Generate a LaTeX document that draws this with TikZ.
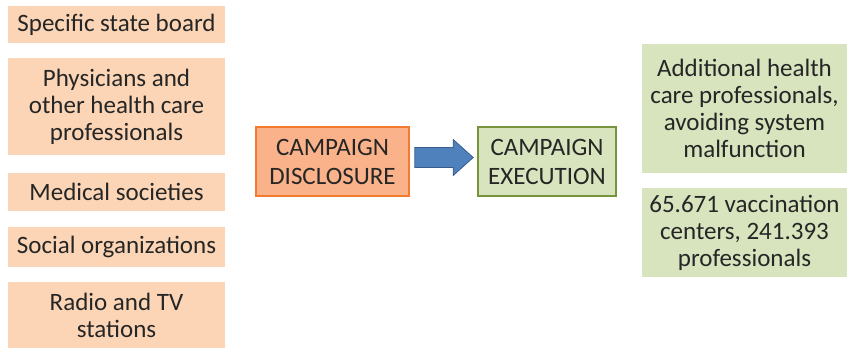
\documentclass[tikz,border=0pt]{standalone}
\usepackage{fontspec}
\setmainfont{Carlito}
\usetikzlibrary{calc}
\definecolor{peach}{HTML}{FBD5B5}
\definecolor{orfill}{HTML}{F9B28A}
\definecolor{orline}{HTML}{F47A30}
\definecolor{grfill}{HTML}{D7E4BD}
\definecolor{grline}{HTML}{77933C}
\definecolor{arfill}{HTML}{4F81BD}
\definecolor{arline}{HTML}{385D8A}
\definecolor{txt}{HTML}{262626}
\tikzset{
  every node/.style={font=\fontsize{25}{27}\selectfont, text=txt, align=center, inner sep=0pt},
  leftbox/.style={fill=peach, minimum width=217pt},
  rightbox/.style={fill=grfill, minimum width=205pt},
  disc/.style={fill=orfill, draw=orline, line width=1.6pt, minimum width=153pt, minimum height=69pt, font=\fontsize{25}{29}\selectfont},
  exec/.style={fill=grfill, draw=grline, line width=1.6pt, minimum width=138pt, minimum height=69pt, font=\fontsize{25}{29}\selectfont},
  blockarrow/.style={fill=arfill, draw=arline, line width=0.8pt, line join=miter}
}
\begin{document}
\begin{tikzpicture}[x=1pt,y=-1pt]
\useasboundingbox (0,0) rectangle (847,350);
\node[leftbox, minimum height=37pt] (l1) at (116.5,24.5) {Specific state board};
\node[leftbox, minimum height=97pt] (l2) at (116.5,106.5) {Physicians and\\other health care\\professionals};
\node[leftbox, minimum height=38pt] (l3) at (116.5,192) {Medical societies};
\node[leftbox, minimum height=40pt] (l4) at (116.5,247) {Social organizations};
\node[leftbox, minimum height=66pt] (l5) at (116.5,315) {Radio and TV\\stations};
\node[disc] (d) at (332.5,161.5) {CAMPAIGN\\DISCLOSURE};
\node[exec] (e) at (547,161.5) {CAMPAIGN\\EXECUTION};
\node[rightbox, minimum height=129pt] (r1) at (744.5,108.5) {Additional health\\care professionals,\\avoiding system\\malfunction};
\node[rightbox, minimum height=89pt] (r2) at (744.5,232.5) {65.671 vaccination\\centers, 241.393\\professionals};
\coordinate (at) at ($(d.east)+(5,-4)$);
\coordinate (ah) at ($(e.west)+(-4,-4)$);
\draw[blockarrow] ($(at)+(0,-10)$) -- ($(ah)+(-20,-10)$) -- ($(ah)+(-20,-18)$) -- (ah) -- ($(ah)+(-20,18)$) -- ($(ah)+(-20,10)$) -- ($(at)+(0,10)$) -- cycle;
\end{tikzpicture}
\end{document}
